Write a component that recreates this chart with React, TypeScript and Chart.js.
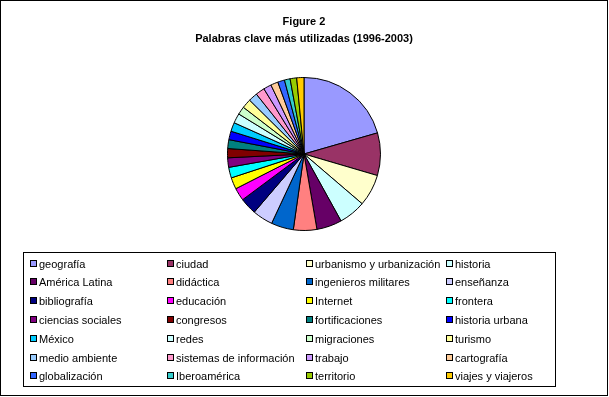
import React, { useEffect, useRef } from "react";
import { Chart, registerables } from "chart.js";

Chart.register(...registerables);

const titleLines = ["Figure 2", "Palabras clave más utilizadas (1996-2003)"];

const categories = [
  "geografía", "ciudad", "urbanismo y urbanización", "historia",
  "América Latina", "didáctica", "ingenieros militares", "enseñanza",
  "bibliografía", "educación", "Internet", "frontera",
  "ciencias sociales", "congresos", "fortificaciones", "historia urbana",
  "México", "redes", "migraciones", "turismo",
  "medio ambiente", "sistemas de información", "trabajo", "cartografía",
  "globalización", "Iberoamérica", "territorio", "viajes y viajeros",
];

const values = [
  74, 32.4, 24.2, 20.5,
  19.2, 17.8, 17, 15.5,
  12.8, 9.7, 8.8, 8.1,
  7.2, 7, 6.7, 6.5,
  6.8, 7.4, 6.1, 7.1,
  6.8, 6.9, 6, 5.6,
  5.2, 4.3, 5, 5.5,
];

const colors = [
  "#9999FF", "#993366", "#FFFFCC", "#CCFFFF",
  "#660066", "#FF8080", "#0066CC", "#CCCCFF",
  "#000080", "#FF00FF", "#FFFF00", "#00FFFF",
  "#800080", "#800000", "#008080", "#0000FF",
  "#00CCFF", "#CCFFFF", "#CCFFCC", "#FFFF99",
  "#99CCFF", "#FF99CC", "#CC99FF", "#FFCC99",
  "#3366FF", "#33CCCC", "#99CC00", "#FFCC00",
];

const W = 609;
const H = 397;

const decorPlugin = {
  id: "excelDecor",
  afterDraw(chart: any) {
    const ctx = chart.ctx as CanvasRenderingContext2D;
    ctx.save();
    // outer frame
    ctx.strokeStyle = "#000";
    ctx.lineWidth = 1;
    ctx.strokeRect(0.5, 0.5, 607, 395);

    // title
    ctx.fillStyle = "#000";
    ctx.textAlign = "center";
    ctx.textBaseline = "middle";
    ctx.font = "bold 11px 'Liberation Sans', Arial, sans-serif";
    ctx.fillText(titleLines[0], 304, 22);
    ctx.fillText(titleLines[1], 304, 39);

    // legend box
    const bx = 23.5, by = 252.5, bw = 532, bh = 134;
    ctx.strokeRect(bx, by, bw, bh);

    const labels: string[] = chart.data.labels;
    const bg: string[] = chart.data.datasets[0].backgroundColor;
    const colX = [30, 167, 306, 446];
    const rowY0 = 263.5;
    const rowStep = 18.8;
    ctx.textAlign = "left";
    ctx.font = "11px 'Liberation Sans', Arial, sans-serif";
    labels.forEach((lab, i) => {
      const r = Math.floor(i / 4);
      const c = i % 4;
      const y = Math.round(rowY0 + r * rowStep);
      const x = colX[c];
      ctx.fillStyle = bg[i];
      ctx.fillRect(x, y - 3, 6, 6);
      ctx.strokeStyle = "#000";
      ctx.strokeRect(x + 0.5, y - 3.5, 6, 6);
      ctx.fillStyle = "#000";
      ctx.fillText(lab, x + 9, y + 0.5);
    });
    ctx.restore();
  },
};

export default function App() {
  const ref = useRef<HTMLCanvasElement | null>(null);
  useEffect(() => {
    if (!ref.current) return;
    const chart = new Chart(ref.current, {
      type: "pie",
      data: {
        labels: categories,
        datasets: [
          {
            data: values,
            backgroundColor: colors,
            borderColor: "#000000",
            borderWidth: 1,
            hoverOffset: 0,
          },
        ],
      },
      options: {
        responsive: false,
        animation: false,
        events: [],
        layout: { padding: { top: 77, bottom: 166, left: 227, right: 228 } },
        plugins: {
          legend: { display: false },
          title: { display: false },
          tooltip: { enabled: false },
        },
      },
      plugins: [decorPlugin],
    });
    return () => chart.destroy();
  }, []);
  return (
    <div style={{ position: "absolute", left: 0, top: 0, width: W, height: H, background: "#fff" }}>
      <canvas ref={ref} width={W} height={H} />
    </div>
  );
}
